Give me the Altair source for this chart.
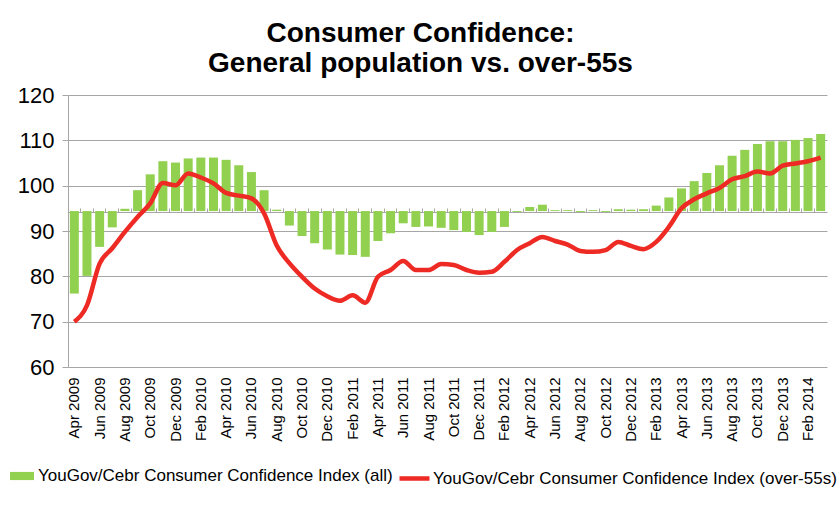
import altair as alt
import pandas as pd

months = [
    "Apr 2009", "May 2009", "Jun 2009", "Jul 2009", "Aug 2009", "Sep 2009",
    "Oct 2009", "Nov 2009", "Dec 2009", "Jan 2010", "Feb 2010", "Mar 2010",
    "Apr 2010", "May 2010", "Jun 2010", "Jul 2010", "Aug 2010", "Sep 2010",
    "Oct 2010", "Nov 2010", "Dec 2010", "Jan 2011", "Feb 2011", "Mar 2011",
    "Apr 2011", "May 2011", "Jun 2011", "Jul 2011", "Aug 2011", "Sep 2011",
    "Oct 2011", "Nov 2011", "Dec 2011", "Jan 2012", "Feb 2012", "Mar 2012",
    "Apr 2012", "May 2012", "Jun 2012", "Jul 2012", "Aug 2012", "Sep 2012",
    "Oct 2012", "Nov 2012", "Dec 2012", "Jan 2013", "Feb 2013", "Mar 2013",
    "Apr 2013", "May 2013", "Jun 2013", "Jul 2013", "Aug 2013", "Sep 2013",
    "Oct 2013", "Nov 2013", "Dec 2013", "Jan 2014", "Feb 2014", "Mar 2014",
]

index_all = [
    76.2, 80.1, 86.5, 90.8, 94.9, 99.0, 102.5, 105.4, 105.1, 106.0, 106.2, 106.2,
    105.7, 104.5, 103.0, 99.0, 94.7, 91.2, 88.9, 87.3, 85.9, 84.8, 84.7, 84.3,
    87.8, 89.5, 91.7, 90.9, 91.0, 90.7, 90.2, 89.8, 89.1, 89.8, 90.9, 94.2,
    95.3, 95.8, 94.6, 94.6, 94.2, 94.6, 94.2, 94.8, 94.7, 94.8, 95.6, 97.4,
    99.4, 101.0, 102.8, 104.5, 106.6, 107.9, 109.2, 109.8, 109.8, 110.1, 110.5, 111.4,
]

index_over55 = [
    70.0, 73.6, 82.8, 86.2, 89.8, 93.1, 96.1, 100.6, 100.1, 102.7, 101.8, 100.5,
    98.4, 97.8, 97.2, 93.9, 86.8, 82.9, 79.9, 77.3, 75.6, 74.6, 75.8, 74.2,
    79.9, 81.4, 83.4, 81.4, 81.4, 82.7, 82.5, 81.4, 80.8, 81.0, 83.2, 85.8,
    87.3, 88.7, 87.8, 87.0, 85.6, 85.4, 85.8, 87.6, 86.7, 86.0, 87.6, 90.9,
    95.0, 97.0, 98.3, 99.5, 101.4, 102.1, 103.1, 102.7, 104.4, 104.9, 105.4, 106.2,
]

BASELINE = 94.4
label_all = "YouGov/Cebr Consumer Confidence Index (all)"
label_55 = "YouGov/Cebr Consumer Confidence Index (over-55s)"
y_ticks = [60, 70, 80, 90, 100, 110, 120]

df = pd.DataFrame({
    "month": months,
    "all": index_all,
    "over55": index_over55,
    "base": [BASELINE] * len(months),
    "s_all": [label_all] * len(months),
    "s_55": [label_55] * len(months),
})

FONT = "Liberation Sans"
W, H = 759, 272

x_scale = alt.Scale(paddingInner=0, paddingOuter=0)
y_scale = alt.Scale(domain=[60, 120], nice=False, zero=False)

bars = alt.Chart(df).mark_bar(width=9).encode(
    x=alt.X("month:O", sort=months, scale=x_scale, title=None,
            axis=alt.Axis(values=months[::2], labelAngle=-90, labelAlign="right",
                          labelBaseline="middle", labelFontSize=15, labelFont=FONT,
                          labelColor="#000000", labelPadding=10, domain=False,
                          ticks=False, grid=False)),
    y=alt.Y("all:Q", scale=y_scale, title=None,
            axis=alt.Axis(values=y_ticks, labelFontSize=22, labelFont=FONT,
                          labelColor="#000000", labelPadding=8, tickSize=6,
                          tickColor="#A6A6A6", domainColor="#A6A6A6",
                          gridColor="#A6A6A6", gridWidth=1)),
    y2="base:Q",
    color=alt.Color("s_all:N", title=None,
                    scale=alt.Scale(domain=[label_all], range=["#92D050"]),
                    legend=alt.Legend(orient="none", legendX=-58, legendY=369,
                                      symbolType="M-1,-0.34L1,-0.34L1,0.34L-1,0.34Z",
                                      symbolSize=576, symbolStrokeWidth=0,
                                      labelFontSize=17, labelFont=FONT,
                                      labelColor="#000000", labelOffset=4,
                                      labelLimit=0, padding=0)),
)

line = alt.Chart(df).mark_line(strokeWidth=4.5, interpolate="monotone").encode(
    x=alt.X("month:O", sort=months, scale=x_scale, title=None,
            axis=alt.Axis(labels=False, offset=-117, domainColor="#A6A6A6",
                          tickColor="#A6A6A6", tickSize=4, bandPosition=0,
                          grid=False)),
    y=alt.Y("over55:Q", scale=y_scale),
    stroke=alt.Stroke("s_55:N", title=None,
                      scale=alt.Scale(domain=[label_55], range=["#EE2A24"]),
                      legend=alt.Legend(orient="none", legendX=329, legendY=366,
                                        symbolType="stroke", symbolSize=900,
                                        symbolStrokeWidth=4.5,
                                        labelFontSize=17, labelFont=FONT,
                                        labelColor="#000000", labelOffset=1,
                                        labelLimit=0, padding=0)),
)

chart = alt.layer(bars, line).resolve_axis(x="independent").properties(
    width=W, height=H,
    title=alt.TitleParams(["Consumer Confidence:", "General population vs. over-55s"],
                          font=FONT, fontSize=28, fontWeight="bold", color="#000000",
                          anchor="middle", dx=-27, offset=6, lineHeight=30.5),
    autosize=alt.AutoSizeParams(type="none"),
    padding={"left": 68, "top": 95, "right": 13, "bottom": 144},
    background="#FFFFFF",
).configure_view(stroke=None)

chart.save("out.html", embed_options={"renderer": "svg", "actions": False})
